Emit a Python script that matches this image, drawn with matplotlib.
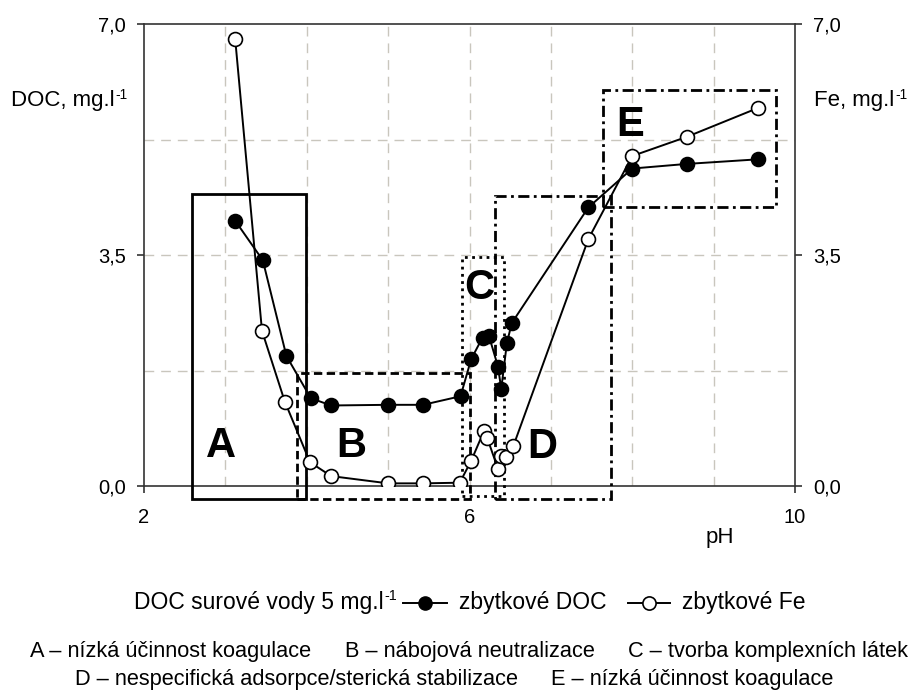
import matplotlib
matplotlib.use('Agg')
import matplotlib.pyplot as plt
from matplotlib.patches import Rectangle
from matplotlib.lines import Line2D
from matplotlib.text import Annotation

plt.rcParams['font.family'] = ['Liberation Sans', 'DejaVu Sans']

# ---- data ----
ph_doc = [3.12, 3.46, 3.75, 4.05, 4.30, 5.00, 5.43, 5.89, 6.02, 6.16, 6.24, 6.35, 6.39, 6.46, 6.52, 7.46, 8.00, 8.67, 9.55]
doc = [4.02, 3.42, 1.97, 1.33, 1.22, 1.23, 1.23, 1.36, 1.92, 2.25, 2.27, 1.81, 1.47, 2.17, 2.47, 4.22, 4.81, 4.88, 4.95]

ph_fe = [3.12, 3.45, 3.73, 4.04, 4.30, 5.00, 5.43, 5.88, 6.02, 6.18, 6.22, 6.35, 6.39, 6.45, 6.54, 7.46, 8.00, 8.67, 9.55]
fe = [6.78, 2.35, 1.28, 0.36, 0.15, 0.04, 0.04, 0.05, 0.38, 0.84, 0.72, 0.26, 0.46, 0.44, 0.61, 3.74, 5.00, 5.29, 5.73]

# regions
region_names = ['A', 'B', 'C', 'D', 'E']
region_x0 = [2.59, 3.88, 5.905, 6.31, 7.64]
region_x1 = [3.99, 6.00, 6.42, 7.74, 9.77]
region_y0 = [-0.19, -0.19, -0.15, -0.20, 4.23]
region_y1 = [4.42, 1.71, 3.47, 4.39, 6.00]
label_pos = [(2.94, 0.61), (4.55, 0.61), (6.12, 3.0), (6.90, 0.59), (7.98, 5.47)]

x_ticks = [2, 6, 10]
x_tick_labels = ['2', '6', '10']
y_ticks = [0, 3.5, 7]
y_tick_labels = ['0,0', '3,5', '7,0']

desc_line1 = ['A – nízká účinnost koagulace', 'B – nábojová neutralizace', 'C – tvorba komplexních látek']
desc_line2 = ['D – nespecifická adsorpce/sterická stabilizace', 'E – nízká účinnost koagulace']

W, H = 919, 693
FS = 15.7
FS_LEG = 16.5
fig = plt.figure(figsize=(W / 100, H / 100), dpi=100)
ax = fig.add_axes([144 / W, 1 - 486 / H, (795 - 144) / W, (486 - 24) / H])
ax.set_xlim(2, 10)
ax.set_ylim(0, 7)

grid_c = '#c9c6bd'
for xv in range(3, 10):
    ax.axvline(xv, color=grid_c, lw=1.0, dashes=(7, 5), zorder=0)
for yv in [1.75, 3.5, 5.25]:
    ax.axhline(yv, color=grid_c, lw=1.0, dashes=(7, 5), zorder=0)

ax.plot(ph_doc, doc, color='black', lw=1.4, marker='o', ms=10, mfc='black', mec='black', mew=1.2, zorder=4)
ax.plot(ph_fe, fe, color='black', lw=1.4, marker='o', ms=10, mfc='white', mec='black', mew=1.2, zorder=5)

styles = ['-', (0, (3, 1.6)), (0, (1, 1.6)), (0, (4, 1.6, 1, 1.6)), (0, (4, 1.6, 1, 1.6))]
for name, x0, x1, y0, y1, ls, (lx, ly) in zip(region_names, region_x0, region_x1, region_y0, region_y1, styles, label_pos):
    r = Rectangle((x0, y0), x1 - x0, y1 - y0, fill=False, ec='black', lw=2.0, ls=ls, clip_on=False, zorder=3)
    ax.add_patch(r)
    ax.text(lx, ly, name, fontsize=30, fontweight='bold', ha='center', va='center', zorder=6)

for s in ax.spines.values():
    s.set_color('#333333')
    s.set_linewidth(1.2)

ax.set_xticks(x_ticks)
ax.set_xticklabels(x_tick_labels)
ax.set_yticks(y_ticks)
ax.set_yticklabels(y_tick_labels)
ax.tick_params(axis='x', direction='out', length=5, width=1.2, color='#333333', pad=11, labelsize=14.5)
ax.tick_params(axis='y', direction='out', length=5, width=1.2, color='#333333', pad=8, labelsize=14.5,
               right=True, labelright=True)


def sup_text(x, y, base, fs):
    t = fig.text(x, y, base, ha='left', va='baseline', fontsize=fs)
    fig.add_artist(Annotation('-1', xy=(1.0, 1.0), xycoords=t, xytext=(0.8, 1.5),
                              textcoords='offset points', fontsize=fs * 0.62,
                              ha='left', va='top'))
    return t


sup_text(11 / W, 1 - 106 / H, 'DOC, mg.l', 16)
sup_text(814 / W, 1 - 106 / H, 'Fe, mg.l', 16)
fig.text(720 / W, 1 - 538 / H, 'pH', ha='center', va='center', fontsize=16)

# legend row
ly_fig = 1 - 603 / H
sup_text(134 / W, 1 - 609 / H, 'DOC surové vody 5 mg.l', FS_LEG)
fig.add_artist(Line2D([403 / W, 447 / W], [ly_fig, ly_fig], color='black', lw=1.4, transform=fig.transFigure))
fig.add_artist(Line2D([425 / W], [ly_fig], marker='o', ms=9.5, mfc='black', mec='black', transform=fig.transFigure))
fig.text(459 / W, ly_fig, 'zbytkové DOC', ha='left', va='center', fontsize=FS_LEG)
fig.add_artist(Line2D([628 / W, 670 / W], [ly_fig, ly_fig], color='black', lw=1.4, transform=fig.transFigure))
fig.add_artist(Line2D([649 / W], [ly_fig], marker='o', ms=9.5, mfc='white', mec='black', mew=1.2, transform=fig.transFigure))
fig.text(682 / W, ly_fig, 'zbytkové Fe', ha='left', va='center', fontsize=FS_LEG)

# description lines, spread between measured extents
renderer = fig.canvas.get_renderer()
for items, (xs, xe), yy in [(desc_line1, (30, 908), 651), (desc_line2, (75, 833), 679)]:
    ts = [fig.text(0, 1 - yy / H, it, ha='left', va='center', fontsize=FS) for it in items]
    widths = [t.get_window_extent(renderer).width for t in ts]
    gap = (xe - xs - sum(widths)) / (len(items) - 1)
    cx = xs
    for t, w in zip(ts, widths):
        t.set_x(cx / W)
        cx += w + gap

fig.savefig('out.png', dpi=100)
